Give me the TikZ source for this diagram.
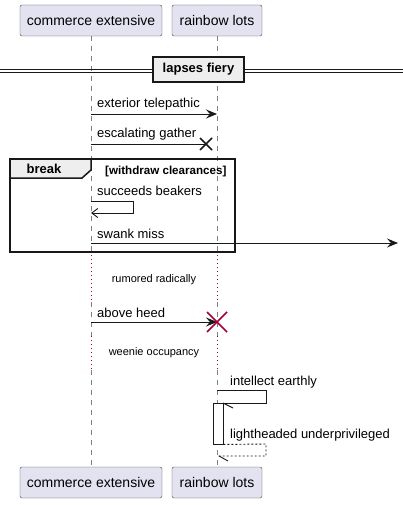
\documentclass[tikz,border=0pt]{standalone}
\usepackage{fontspec}
\setmainfont{Liberation Sans}
\usetikzlibrary{arrows.meta,positioning}

\definecolor{partfill}{HTML}{E2E2F0}
\definecolor{linecol}{HTML}{181818}
\definecolor{delaycol}{HTML}{A80036}
\definecolor{grpfill}{HTML}{EEEEEE}

\tikzset{
	party/.style={draw=linecol!80, fill=partfill, rounded corners=2pt, minimum height=31pt, inner sep=0pt, font=\fontsize{14}{16}\selectfont},
	lifeline/.style={draw=linecol!55, line width=0.6pt, dash pattern=on 5pt off 5pt},
	delayline/.style={draw=delaycol, line width=0.9pt, dash pattern=on 1pt off 3pt},
	msg/.style={draw=linecol, line width=0.9pt, -{Stealth[length=11pt,width=9pt,inset=4pt]}},
	selfmsg/.style={draw=linecol, line width=0.9pt, -{Straight Barb[length=6pt,width=9pt]}},
	msgtext/.style={anchor=base west, inner sep=0pt, font=\fontsize{13}{15}\selectfont},
	delaytext/.style={inner sep=0pt, font=\fontsize{11}{13}\selectfont},
	grpbox/.style={draw=linecol, line width=1.5pt}
}

\begin{document}
\begin{tikzpicture}[x=1pt,y=-1pt]
	\useasboundingbox (0,0) rectangle (403,505);

	\node[party, minimum width=142pt] (cTop) at (91,20.5) {commerce extensive};
	\node[party, minimum width=90pt] (rTop) at (217,20.5) {rainbow lots};
	\node[party, minimum width=142pt] (cBot) at (91,482.5) {commerce extensive};
	\node[party, minimum width=90pt] (rBot) at (217,482.5) {rainbow lots};

	\foreach \p/\q in {cTop/cBot, rTop/rBot} {
		\draw[lifeline] (\p.south) -- (\p |- 0,255);
		\draw[delayline] (\p |- 0,255) -- (\p |- 0,302);
		\draw[lifeline] (\p |- 0,302) -- (\p |- 0,336);
		\draw[delayline] (\p |- 0,336) -- (\p |- 0,370);
		\draw[lifeline] (\p |- 0,370) -- (\q.north);
	}

	\draw[linecol, line width=0.8pt] (0,69) -- (403,69) (0,72) -- (403,72);
	\node[grpbox, fill=grpfill, minimum width=91pt, minimum height=25pt, inner sep=0pt, font=\bfseries\fontsize{13}{15}\selectfont] (fiery) at (198.5,69.5) {lapses fiery};

	\coordinate (m1a) at (cTop |- 0,114);
	\coordinate (m1b) at (rTop |- 0,114);
	\draw[msg] (m1a) -- (m1b);
	\node[msgtext] (m1t) at (97,108) {exterior telepathic};

	\coordinate (m2a) at (cTop |- 0,144);
	\coordinate (m2x) at (206,144);
	\draw[linecol, line width=0.9pt] (m2a) -- (m2x);
	\draw[linecol, line width=1.6pt] ([shift={(-6,-6)}]m2x) -- ([shift={(6,6)}]m2x) ([shift={(-6,6)}]m2x) -- ([shift={(6,-6)}]m2x);
	\node[msgtext] (m2t) at (97,138) {escalating gather};

	\draw[grpbox] (10,159) rectangle (235,252);
	\draw[grpbox, fill=grpfill] (10,159) -- (91,159) -- (91,170) -- (82,178) -- (10,178) -- cycle;
	\node[inner sep=0pt, font=\bfseries\fontsize{13}{15}\selectfont] (brk) at (44,168.5) {break};
	\node[anchor=base west, inner sep=0pt, font=\bfseries\fontsize{11.6}{13}\selectfont] (cond) at (105,174) {[withdraw clearances]};

	\coordinate (m3a) at (cTop |- 0,201);
	\coordinate (m3b) at (cTop |- 0,213);
	\draw[selfmsg] (m3a) -- (133,201) -- (133,213) -- (m3b);
	\node[msgtext] (m3t) at (97,195) {succeeds beakers};

	\coordinate (m4a) at (cTop |- 0,243);
	\coordinate (m4b) at (398,243);
	\draw[msg] (m4a) -- (m4b);
	\node[msgtext] (m4t) at (97,238) {swank miss};

	\node[delaytext] (d1) at (154,280) {rumored radically};

	\coordinate (m5a) at (cTop |- 0,322);
	\coordinate (m5b) at (rTop |- 0,322);
	\draw[msg] (m5a) -- (m5b);
	\draw[delaycol, line width=1.6pt] ([shift={(-10,-10)}]m5b) -- ([shift={(10,10)}]m5b) ([shift={(-10,10)}]m5b) -- ([shift={(10,-10)}]m5b);
	\node[msgtext] (m5t) at (97,317) {above heed};

	\node[delaytext] (d2) at (154,353) {weenie occupancy};

	\coordinate (m6a) at (rTop |- 0,390);
	\coordinate (m6b) at (223,403);
	\draw[linecol, line width=0.9pt] (m6a) -- (266,390) -- (266,403) -- (m6b);
	\draw[linecol, line width=0.9pt] (m6b) -- ++(10,5);
	\node[msgtext] (m6t) at (230,385) {intellect earthly};

	\node[draw=linecol, fill=white, line width=0.9pt, minimum width=10pt, minimum height=41pt, inner sep=0pt] (act) at (218,423.5) {};

	\coordinate (m7a) at (act.south east);
	\coordinate (m7b) at (rTop |- 0,456);
	\draw[linecol, line width=0.9pt, dash pattern=on 2pt off 2pt] (m7a) -- (266,444) -- (266,456) -- (m7b);
	\draw[linecol, line width=0.9pt] ([xshift=2pt]m7b) -- ++(9,5);
	\node[msgtext] (m7t) at (230,438) {lightheaded underprivileged};
\end{tikzpicture}
\end{document}
